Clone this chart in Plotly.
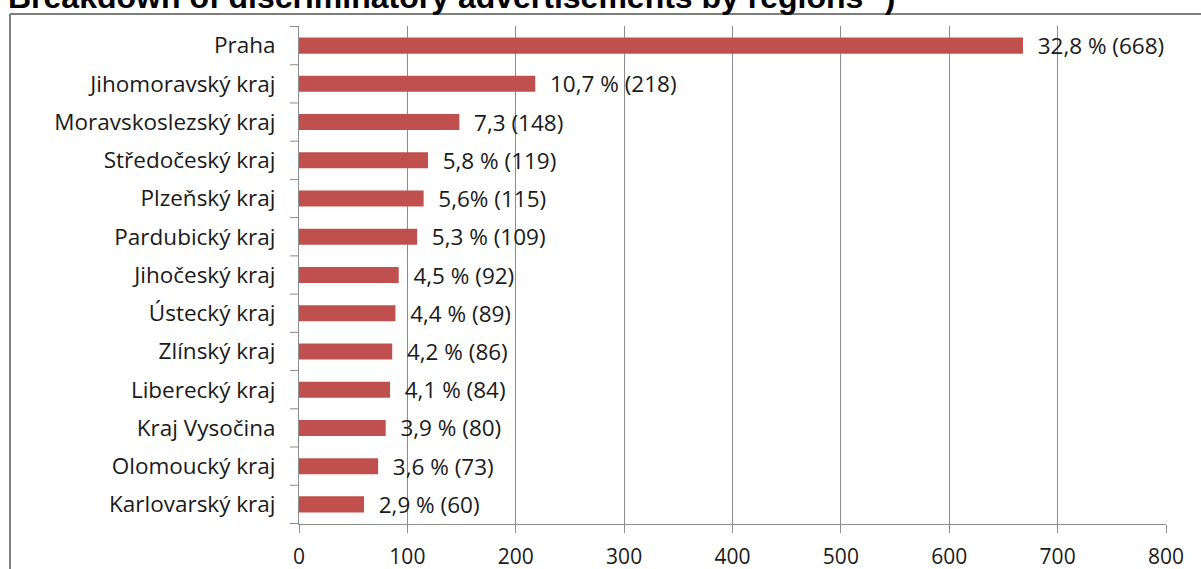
import plotly.graph_objects as go

# Regions, top to bottom as displayed
regions = [
    "Praha", "Jihomoravský kraj", "Moravskoslezský kraj", "Středočeský kraj",
    "Plzeňský kraj", "Pardubický kraj", "Jihočeský kraj", "Ústecký kraj",
    "Zlínský kraj", "Liberecký kraj", "Kraj Vysočina", "Olomoucký kraj",
    "Karlovarský kraj",
]
counts = [668, 218, 148, 119, 115, 109, 92, 89, 86, 84, 80, 73, 60]
labels = [
    "32,8 % (668)", "10,7 % (218)", "7,3 (148)", "5,8 % (119)", "5,6% (115)",
    "5,3 % (109)", "4,5 % (92)", "4,4 % (89)", "4,2 % (86)", "4,1 % (84)",
    "3,9 % (80)", "3,6 % (73)", "2,9 % (60)",
]
x_ticks = [0, 100, 200, 300, 400, 500, 600, 700, 800]

FONT = "'Open Sans', Lato, sans-serif"
GRID = "#8c8c8c"
TEXT = "#1a1a1a"

fig = go.Figure(
    go.Bar(
        y=regions,
        x=counts,
        orientation="h",
        text=["\u00a0\u00a0" + t for t in labels],
        textposition="outside",
        constraintext="none",
        textfont=dict(family=FONT, size=22.5, color=TEXT),
        marker=dict(color="#C0504D", line=dict(width=0)),
        cliponaxis=False,
        width=0.42,
    )
)

fig.update_layout(
    width=1201,
    height=569,
    margin=dict(l=299, r=35, t=26, b=45),
    paper_bgcolor="white",
    plot_bgcolor="white",
    showlegend=False,
    font=dict(family=FONT, size=22, color=TEXT),
    xaxis=dict(
        range=[0, 800],
        tickvals=x_ticks,
        ticks="outside",
        ticklen=8,
        tickcolor=GRID,
        showgrid=True,
        gridcolor=GRID,
        gridwidth=1,
        showline=True,
        linecolor=GRID,
        linewidth=1,
        zeroline=False,
        tickfont=dict(family=FONT, size=21, color=TEXT),
        ticklabelstandoff=6,
        automargin=False,
        fixedrange=True,
    ),
    yaxis=dict(
        categoryorder="array",
        categoryarray=regions[::-1],
        ticks="",
        showgrid=False,
        showline=True,
        linecolor=GRID,
        linewidth=1,
        tickfont=dict(family=FONT, size=22.5, color=TEXT),
        ticklabelstandoff=18,
        automargin=False,
        fixedrange=True,
    ),
    annotations=[
        dict(
            text="<b>Breakdown of discriminatory advertisements by regions <sup>2</sup>)</b>",
            xref="paper", yref="paper",
            x=(6 - 299) / 867, y=(524 - 15.5) / 499,
            xanchor="left", yanchor="bottom",
            showarrow=False,
            font=dict(family="Liberation Sans, Arial, sans-serif", size=32, color="black"),
        )
    ],
)

# Category boundary ticks on the value axis side
n = len(regions)
shapes = []
for i in range(n + 1):
    yb = i - 0.5
    shapes.append(dict(
        type="line", xref="paper", yref="y",
        x0=-9 / 867, x1=0, y0=yb, y1=yb,
        line=dict(color=GRID, width=1),
    ))

# Outer chart frame (left and top edges)
left = (10 - 299) / 867
top = (524 - 13) / 499
shapes.append(dict(type="line", xref="paper", yref="paper",
                   x0=left, x1=left, y0=-0.2, y1=top,
                   line=dict(color="#7f7f7f", width=2)))
shapes.append(dict(type="line", xref="paper", yref="paper",
                   x0=left, x1=1.1, y0=top, y1=top,
                   line=dict(color="#7f7f7f", width=2)))
fig.update_layout(shapes=shapes)

fig.write_html("out.html")
